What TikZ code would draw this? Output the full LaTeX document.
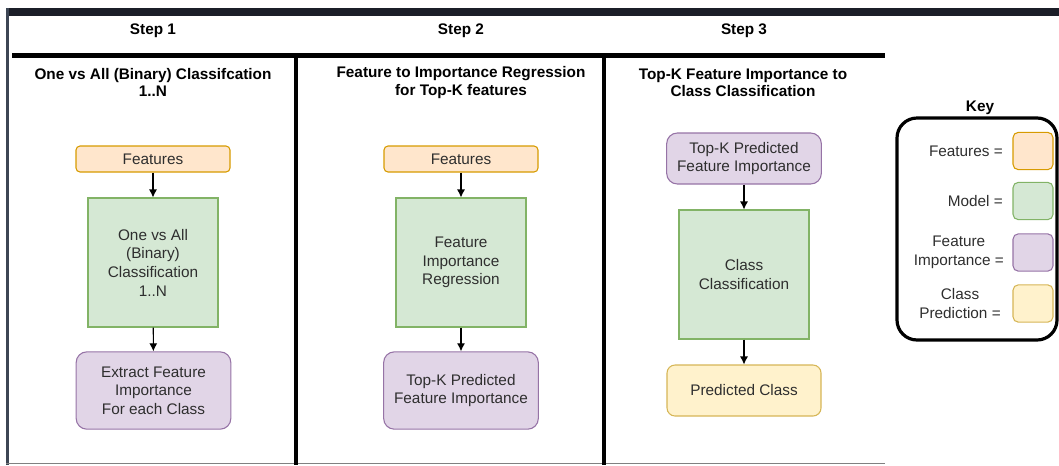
\documentclass[tikz,border=0pt]{standalone}
\usepackage{fontspec}
\setmainfont{Liberation Sans}
\usepackage{tikz}
\usetikzlibrary{arrows.meta,positioning}
\definecolor{FeatFill}{HTML}{FFE6CC}
\definecolor{FeatLine}{HTML}{D79B00}
\definecolor{ModelFill}{HTML}{D5E8D4}
\definecolor{ModelLine}{HTML}{82B366}
\definecolor{ImpFill}{HTML}{E1D5E7}
\definecolor{ImpLine}{HTML}{9673A6}
\definecolor{PredFill}{HTML}{FFF2CC}
\definecolor{PredLine}{HTML}{D6B656}
\definecolor{TextGrey}{HTML}{2E2E2E}
\definecolor{TopBar}{HTML}{1B1E28}
\definecolor{SideBar}{HTML}{3D4654}
\tikzset{
every node/.style={font=\fontsize{11.5}{14}\selectfont,text=TextGrey,align=center,inner sep=0pt},
style1/.style= {rectangle, rounded corners=3pt, draw=FeatLine, fill=FeatFill, line width=0.8pt, minimum width=115.5pt, minimum height=19.5pt},
style2/.style= {rectangle, draw=ModelLine, fill=ModelFill, line width=0.8pt, minimum width=97.5pt, minimum height=96.75pt},
style3/.style= {rectangle, rounded corners=8pt, draw=ImpLine, fill=ImpFill, line width=0.8pt, minimum width=116pt, minimum height=58pt},
style4/.style= {rectangle, rounded corners=6pt, draw=PredLine, fill=PredFill, line width=0.8pt, minimum width=115.5pt, minimum height=38.25pt},
swatch/.style= {rectangle, rounded corners=4pt, line width=0.8pt, minimum width=30pt, minimum height=28pt},
title/.style= {font=\bfseries\fontsize{11.5}{13}\selectfont, text=black}
}

\begin{document}
\begin{tikzpicture}[x=0.75pt,y=-0.75pt,>={Latex[length=6pt,width=6pt]}]
\useasboundingbox (0,0) rectangle (1059,465);

% frame
\fill[TopBar] (6,8) rectangle (1059,16);
\fill[SideBar] (6,8) rectangle (8.5,465);
\draw[gray,line width=1pt] (6,463.5) -- (885,463.5);
\draw[black,line width=3.75pt] (12,55) -- (885,55);
\draw[black,line width=3.4pt] (296,55) -- (296,465);
\draw[black,line width=3.4pt] (604,55) -- (604,465);

% headings
\node[title] (s1) at (153,31) {Step 1};
\node[title] (s2) at (461,31) {Step 2};
\node[title] (s3) at (744,31) {Step 3};
\node[title] (t1) at (153,82.5) {One vs All (Binary) Classifcation\\1..N};
\node[title] (t2) at (461,82.5) {Feature to Importance Regression\\for Top-K features};
\node[title] (t3) at (743,82.5) {Top-K Feature Importance to\\Class Classification};

% step 1
\node[style1] (c11) at (153,159) {Features};
\node[style2] (c12) at (153,262.5) {One vs All\\(Binary)\\Classification\\1..N};
\node[style3] (c13) at (153.5,390.5) {Extract Feature\\Importance\\For each Class};

% step 2
\node[style1] (c21) at (461,159) {Features};
\node[style2] (c22) at (461,262.5) {Feature\\Importance\\Regression};
\node[style3] (c23) at (461,390.5) {Top-K Predicted\\Feature Importance};

% step 3
\node[style3,minimum height=38.25pt] (c31) at (744,158.5) {Top-K Predicted\\Feature Importance};
\node[style2] (c32) at (744,274.5) {Class\\Classification};
\node[style4] (c33) at (744,390.5) {Predicted Class};

\foreach \col in {1,2,3}{
  \draw[->, line width=0.8pt] (c\col1) -- (c\col2);
  \draw[->, line width=0.8pt] (c\col2) -- (c\col3);
}

% key
\node[title] (key) at (980,108) {Key};
\draw[black,line width=2.4pt,rounded corners=15pt] (897,118) rectangle (1057,340);
\node[swatch,draw=FeatLine,fill=FeatFill] (k1) at (1033,151) {};
\node[swatch,draw=ModelLine,fill=ModelFill] (k2) at (1033,201) {};
\node[swatch,draw=ImpLine,fill=ImpFill] (k3) at (1033,252.5) {};
\node[swatch,draw=PredLine,fill=PredFill] (k4) at (1033,303.5) {};
\node[anchor=east] (l1) at (1003,151) {Features =};
\node[anchor=east] (l2) at (1003,201) {Model =};
\node[anchor=east] (l3) at (1004,252.5) {Feature\\Importance =};
\node[anchor=east] (l4) at (1001,303.5) {Class\\Prediction =};
\end{tikzpicture}
\end{document}
